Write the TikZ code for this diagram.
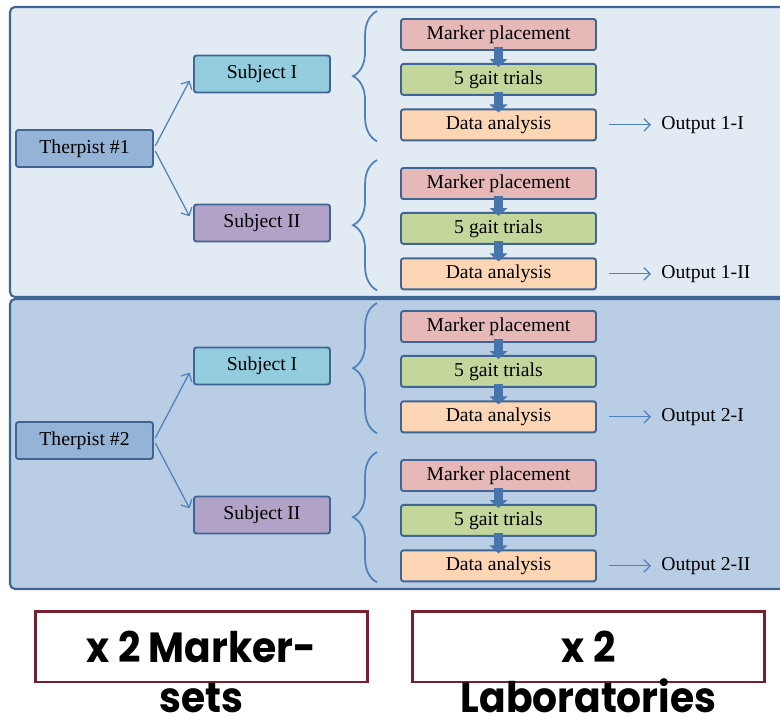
\documentclass[tikz,border=0pt]{standalone}
\usepackage{fontspec}
\setmainfont{Liberation Serif}
\newfontfamily\gothic{Poppins}[FakeStretch=0.93]
\usetikzlibrary{positioning, arrows.meta, decorations.pathreplacing, calc}
\usepackage{xcolor}

\definecolor{panelA}{HTML}{E2EAF4}
\definecolor{panelB}{HTML}{B9CDE5}
\definecolor{edgeblue}{HTML}{3F6595}
\definecolor{arrowblue}{HTML}{4F81BD}
\definecolor{therc}{HTML}{95B3D7}
\definecolor{subjI}{HTML}{93CDDD}
\definecolor{subjII}{HTML}{B3A2C7}
\definecolor{markc}{HTML}{E6B9B8}
\definecolor{gaitc}{HTML}{C3D69B}
\definecolor{datac}{HTML}{FCD5B5}
\definecolor{darkred}{HTML}{77202F}

\begin{document}
\begin{tikzpicture}[x=0.02cm, y=-0.02cm, font=\fontsize{11.2}{13}\selectfont,
        panel/.style={draw=edgeblue, line width=1.2pt, rounded corners=0.1cm},
        box/.style={draw=edgeblue, line width=1.1pt, rounded corners=0.05cm, inner sep=0pt, minimum height=0.74cm},
        therbox/.style={box, fill=therc, minimum width=2.74cm},
        subjbox/.style={box, minimum width=2.72cm},
        stepbox/.style={box, minimum width=3.9cm, minimum height=0.62cm},
        steparr/.style={line width=5pt, arrowblue!90!black, -{Triangle[width=10pt, length=4.5pt]}, shorten <=-0.08cm, shorten >=-0.08cm},
        thinarr/.style={line width=0.7pt, arrowblue, -{Straight Barb[length=3.5pt, width=7pt]}},
        curly/.style={decorate, decoration={brace, amplitude=0.48cm}, draw=arrowblue, line width=1pt},
        outtxt/.style={inner sep=0pt},
        bigbox/.style={draw=darkred, line width=1.7pt, minimum height=1.42cm, font=\gothic\bfseries\fontsize{24}{28}\selectfont},
        bigtxt/.style={font=\gothic\bfseries\fontsize{24}{28}\selectfont, inner sep=0pt}]

        \clip (0,0) rectangle (780,716);

        % Две панели: терапевт -> два испытуемых -> по три шага
        \foreach \p/\dy/\pc in {1/0/panelA, 2/292/panelB} {
            \draw[panel, fill=\pc] (10,7+\dy) rectangle (800,297+\dy);
            \node[therbox] (t\p) at (84.5,148.5+\dy) {Therpist \#\p};

            \foreach \s/\sy/\sc in {I/0/subjI, II/149/subjII} {
                \node[subjbox, fill=\sc] (s\p\s) at (262,74+\sy+\dy) {Subject \s};
                \draw[thinarr, shorten <=0.06cm, shorten >=0.15cm] (t\p.east) -- (s\p\s.west);

                % Шаги измерения
                \node[stepbox, fill=markc] (m\p\s) at (498.5,34.5+\sy+\dy) {Marker placement};
                \node[stepbox, fill=gaitc, below=0.24cm of m\p\s] (g\p\s) {5 gait trials};
                \node[stepbox, fill=datac, below=0.25cm of g\p\s] (d\p\s) {Data analysis};
                \draw[steparr] (m\p\s) -- (g\p\s);
                \draw[steparr] (g\p\s) -- (d\p\s);

                % Фигурная скобка
                \draw[curly] ($(d\p\s.south west)+(-23,0)$) -- ($(m\p\s.north west)+(-23,-7)$);

                % Результат
                \node[outtxt, right=1.28cm of d\p\s] (o\p\s) {Output \p-\s};
                \draw[thinarr, shorten <=0.24cm, shorten >=0.2cm] (d\p\s) -- (o\p\s);
            }
        }

        % Множители внизу
        \node[bigbox, minimum width=6.66cm] (mk) at (201.5,646.5) {x 2 Marker-};
        \node[bigtxt, anchor=base] (mk2) at ($(mk.center)+(0,66)$) {sets};
        \node[bigbox, minimum width=7.06cm] (lab) at (588.5,646.5) {x 2};
        \node[bigtxt, anchor=base] (lab2) at ($(lab.center)+(0,66)$) {Laboratories};
    \end{tikzpicture}
\end{document}
